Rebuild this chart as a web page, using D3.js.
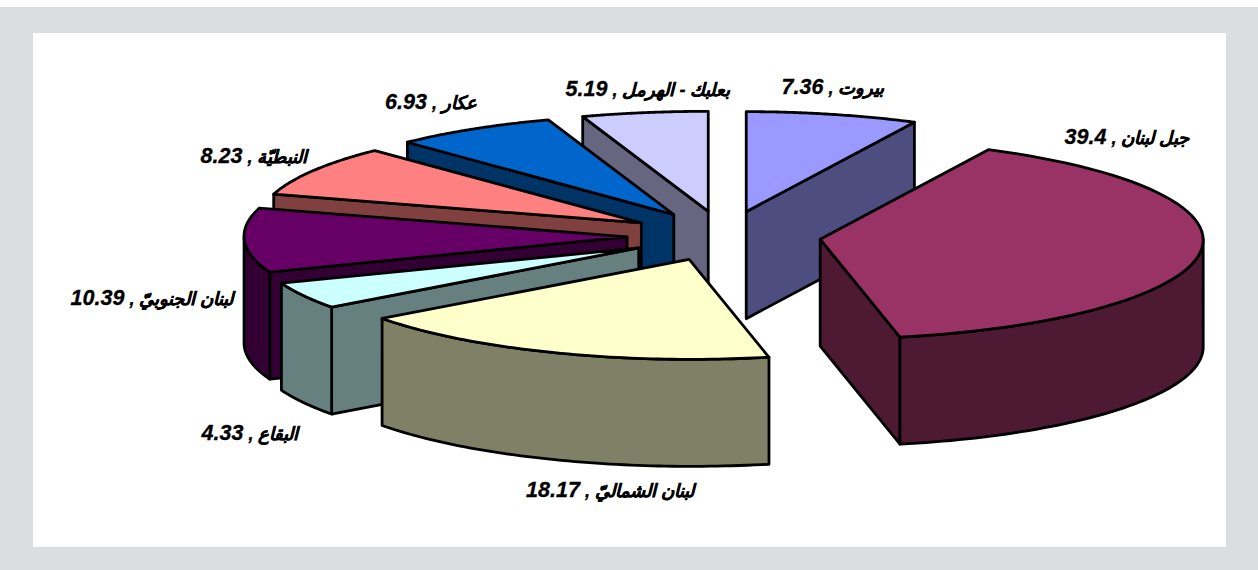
<!DOCTYPE html>
<html lang="ar"><head><meta charset="utf-8">
<script src="https://cdn.jsdelivr.net/npm/d3@7"></script>
<style>html,body{margin:0;padding:0;background:#fff}svg{display:block}
text{font-family:"Liberation Sans","DejaVu Sans",sans-serif;font-weight:bold;font-style:italic;font-size:18px;fill:#000;stroke:#000;stroke-width:.3px;direction:rtl;unicode-bidi:embed}
.num{font-size:21.5px}</style>
</head><body><svg id="c" width="1258" height="570"></svg>
<script>
const regions=["بيروت","جبل لبنان","لبنان الشماليّ","البقاع","لبنان الجنوبيّ","النبطيّة","عكار","بعلبك - الهرمل"];
const shares=[7.36,39.4,18.17,4.33,10.39,8.23,6.93,5.19];
const topColors=["#9999ff","#993366","#ffffcc","#ccffff","#660066","#ff8080","#0066cc","#ccccff"];
const sideColors=["#4d4d80","#4d1933","#808066","#668080","#330033","#804040","#003366","#666680"];
const labelAnchors=[[833,87],[1127,137],[610,490],[250,433],[152,298],[254,156],[431,102],[648,89]];
const paintOrder=[0,1,7,6,5,4,3,2];

const svg=d3.select("#c");
svg.append("rect").attr("x",0).attr("y",7).attr("width",1258).attr("height",563).attr("fill","#dcddde");
svg.append("rect").attr("x",33).attr("y",33).attr("width",1193).attr("height",514).attr("fill","#fff");

const cx=724,cy=236,rx=383,ry=100,depth=107,explodeX=97,explodeY=25;
const arcs=d3.pie().sort(null).value(d=>d).startAngle(0).endAngle(2*Math.PI)(shares);
const g=svg.append("g").attr("stroke","#000").attr("stroke-width",2.8).attr("stroke-linejoin","round");
const line=d3.line();

paintOrder.forEach(i=>{
  const a=arcs[i],mid=(a.startAngle+a.endAngle)/2;
  const ax=cx+explodeX*Math.sin(mid),ay=cy-explodeY*Math.cos(mid);
  // slight perspective skew of the rim, as in the 3-D projection
  const P=t=>[ax+rx*Math.sin(t)-3*Math.cos(t)*Math.min(1,Math.abs(Math.sin(t))*4),ay-ry*Math.cos(t)];
  const down=p=>[p[0],p[1]+depth];
  const apex=[ax,ay];
  const ts=(s,e)=>d3.range(0,61).map(k=>s+(e-s)*k/60);
  // cut faces: only the ones turned towards the viewer
  if(Math.sin(a.startAngle)<-1e-6){
    const p=P(a.startAngle);
    g.append("path").attr("fill",sideColors[i]).attr("d",line([apex,p,down(p),down(apex)])+"Z");
  }
  if(Math.sin(a.endAngle)>1e-6){
    const p=P(a.endAngle);
    g.append("path").attr("fill",sideColors[i]).attr("d",line([apex,p,down(p),down(apex)])+"Z");
  }
  // outer wall (front part only)
  const s=Math.max(a.startAngle,Math.PI/2),e=Math.min(a.endAngle,3*Math.PI/2);
  if(e>s){
    const pts=ts(s,e).map(P);
    g.append("path").attr("fill",sideColors[i]).attr("d",line(pts.concat(pts.map(down).reverse()))+"Z");
  }
  // top
  g.append("path").attr("fill",topColors[i]).attr("d",line([apex].concat(ts(a.startAngle,a.endAngle).map(P)))+"Z");
});

const labels=svg.append("g").selectAll("text").data(regions).join("text")
  .attr("x",(d,i)=>labelAnchors[i][0]).attr("y",(d,i)=>labelAnchors[i][1]+7)
  .attr("text-anchor","middle");
labels.append("tspan").text(d=>d+" , ");
labels.append("tspan").attr("class","num").text((d,i)=>shares[i]);
</script></body></html>
